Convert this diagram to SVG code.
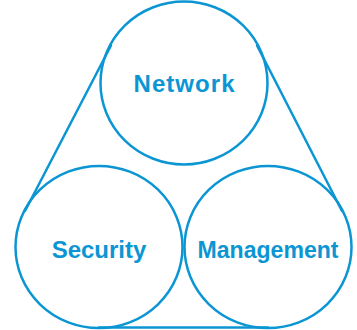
<svg xmlns="http://www.w3.org/2000/svg" width="357" height="330" viewBox="0 0 357 330">
<style>
.c{fill:none;stroke:#0b96d3;stroke-width:2.5}
.l{fill:none;stroke:#0b96d3;stroke-width:2.5;stroke-linecap:round}
.t{font-family:"Liberation Sans",Arial,sans-serif;font-weight:bold;font-size:24px;fill:#0b96d3;text-anchor:middle}
</style>
<rect width="357" height="330" fill="#fff"/>
<g id="connectors">
<line class="l" x1="111" y1="45.5" x2="25" y2="211"/>
<line class="l" x1="257" y1="45.5" x2="342" y2="211"/>
<line class="l" x1="99" y1="327.5" x2="268" y2="327.5"/>
</g>
<g id="network">
<ellipse class="c" cx="184" cy="83" rx="83.5" ry="81.5"/>
<text class="t" x="184" y="92" textLength="101" lengthAdjust="spacing">Network</text>
</g>
<g id="security">
<ellipse class="c" cx="99" cy="247" rx="83.5" ry="81"/>
<text class="t" x="99" y="258">Security</text>
</g>
<g id="management">
<ellipse class="c" cx="268" cy="247" rx="83.5" ry="81"/>
<text class="t" x="268" y="258" textLength="141" lengthAdjust="spacingAndGlyphs">Management</text>
</g>
</svg>
